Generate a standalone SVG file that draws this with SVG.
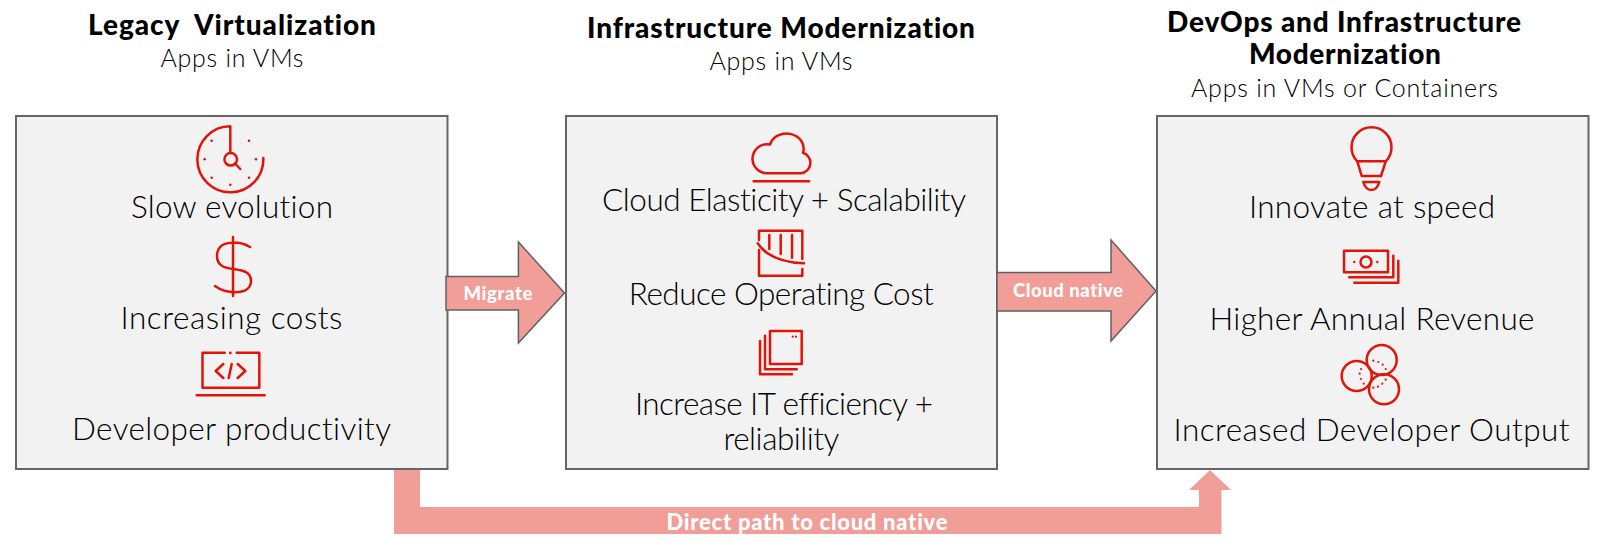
<svg xmlns="http://www.w3.org/2000/svg" width="1600" height="555" viewBox="0 0 1600 555">
<style>
text{font-family:"Lato","Open Sans","Liberation Sans",sans-serif;text-anchor:middle;font-variant-ligatures:none}
.h{font-size:28px;font-weight:900;fill:#000}
.s{font-size:25px;font-weight:300;fill:#000}
.b{font-size:31.5px;font-weight:300;fill:#000}
.a{font-size:18.5px;font-weight:900;fill:#fff}
.w{font-size:22px}
.box{fill:#f2f2f2;stroke:#666;stroke-width:2}
.i{fill:none;stroke:#e2140a;stroke-width:2.5;stroke-linecap:round;stroke-linejoin:round}
.d{fill:#e2140a;stroke:none}
.arrow{fill:#f09e97;stroke:#5f6164;stroke-width:1.5}
.path{fill:#f09e97;stroke:none}
</style>
<g id="node-legacy">
<text class="h" x="232" y="34.5" textLength="288" xml:space="preserve">Legacy  Virtualization</text>
<text class="s" x="232" y="67" textLength="143">Apps in VMs</text>
<rect class="box" x="16" y="116" width="431.5" height="353"/>
<g id="icon-clock" class="i">
<path d="M230.3 153V126.3A33 33 0 1 0 263.3 158"/>
<circle cx="230.7" cy="159.3" r="6.3"/>
<path d="M235 163.5L240.3 169"/>
</g>
<g class="d">
<circle cx="211.7" cy="140.7" r="1.3"/><circle cx="249" cy="140.7" r="1.3"/><circle cx="204.7" cy="159.3" r="1.3"/><circle cx="256" cy="159.3" r="1.3"/><circle cx="211.7" cy="177.7" r="1.3"/><circle cx="249" cy="177.7" r="1.3"/><circle cx="230.3" cy="184.7" r="1.3"/>
</g>
<text class="b" x="232" y="217.5" textLength="202">Slow evolution</text>
<path class="i" d="M233 237V296M250 247C240 241 217 239 217 256C217 277 251 262 251 281C251 296 226 294 215 286"/>
<text class="b" x="231.5" y="329" textLength="222">Increasing costs</text>
<g class="i">
<path d="M224.7 352.7H202.5V387.7H259.3V352.7H236.7M196.7 395.3H264.7M223.3 364L215.7 371L223.3 378M237.7 364L245.3 371L237.7 378M231.7 364L228.7 378"/>
</g>
<circle class="d" cx="230.3" cy="353" r="1.4"/>
<text class="b" x="231.5" y="440" textLength="319">Developer productivity</text>
</g>
<g id="node-infra">
<text class="h" x="781" y="37.5" textLength="388">Infrastructure Modernization</text>
<text class="s" x="781" y="69.5" textLength="143">Apps in VMs</text>
<rect class="box" x="566" y="116" width="431" height="353"/>
<path class="i" d="M766.7 173.3H800.7A10.5 10.5 0 0 0 803 152.8A17 15 0 0 0 770 144.5A14.55 14.55 0 1 0 766.7 173.3ZM753.7 181.3H809"/>
<text class="b" x="784" y="211" textLength="364">Cloud Elasticity + Scalability</text>
<path class="i" d="M759 240V230.7H802.3V259M759 250V275.7H802.3V269M757.7 243.3Q770 262 804 263.3M769.3 235V249M780.7 235V254M792 235V257.7"/>
<text class="b" x="781.3" y="305" textLength="305">Reduce Operating Cost</text>
<path class="i" d="M770 331H801.7V364H770ZM765 335.7V369.3H796.7M760 341V374.3H792"/>
<circle class="d" cx="792.7" cy="336.7" r="1.1"/><circle class="d" cx="796" cy="336.7" r="1.1"/>
<text class="b" x="784" y="415" textLength="298">Increase IT efficiency +</text>
<text class="b" x="781.4" y="450" textLength="116">reliability</text>
</g>
<g id="node-devops">
<text class="h" x="1344" y="32" textLength="354">DevOps and Infrastructure</text>
<text class="h" x="1345" y="64" textLength="192">Modernization</text>
<text class="s" x="1344.5" y="96.5" textLength="307">Apps in VMs or Containers</text>
<rect class="box" x="1157" y="116" width="431.5" height="353"/>
<path class="i" d="M1361.7 176H1381L1385.7 161.3A20 20 0 1 0 1357.3 161.3ZM1357.3 161.3H1385.7M1363.3 182H1379.3Q1377 190 1371.3 190Q1365.6 190 1363.3 182Z"/>
<text class="b" x="1372" y="217.5" textLength="246">Innovate at speed</text>
<path class="i" d="M1344 250.7H1388V272.3H1344ZM1349.3 277.3H1393.3V255.7M1354.3 282.7H1398.3V260.7"/>
<circle class="i" cx="1366" cy="262" r="5.5"/>
<circle class="d" cx="1354.3" cy="262" r="1.2"/><circle class="d" cx="1377.3" cy="262" r="1.2"/>
<text class="b" x="1372" y="329.5" textLength="325">Higher Annual Revenue</text>
<g class="i"><circle cx="1381.7" cy="360" r="15"/><circle cx="1356.7" cy="376" r="15"/><circle cx="1384" cy="389.3" r="15"/></g>
<g class="d"><circle cx="1373.3" cy="360.7" r="1.1"/><circle cx="1378.3" cy="362" r="1.1"/><circle cx="1382.7" cy="364.7" r="1.1"/><circle cx="1385.7" cy="369" r="1.1"/><circle cx="1361" cy="369" r="1.1"/><circle cx="1359.7" cy="373.7" r="1.1"/><circle cx="1361" cy="379" r="1.1"/><circle cx="1363.7" cy="383.7" r="1.1"/><circle cx="1373.3" cy="387.7" r="1.1"/><circle cx="1378" cy="386.7" r="1.1"/><circle cx="1382.3" cy="383.7" r="1.1"/><circle cx="1385.7" cy="379.7" r="1.1"/></g>
<text class="b" x="1371.5" y="441" textLength="396">Increased Developer Output</text>
</g>
<g id="connectors">
<path class="arrow" d="M446 276.5H518.4V242L564.5 293L518.4 343V310H446Z"/>
<path class="arrow" d="M997 272.5H1111V240L1156 291L1111 341V311H997Z"/>
<path class="path" d="M394 470H420V507H1199V490H1189L1210 470L1231 490H1221.5V534H394Z"/>
<text class="a" x="498" y="299.5" textLength="69">Migrate</text>
<text class="a" x="1068" y="296.5" textLength="110">Cloud native</text>
<text class="a w" x="807" y="530" textLength="281">Direct path to cloud native</text>
</g>
</svg>
